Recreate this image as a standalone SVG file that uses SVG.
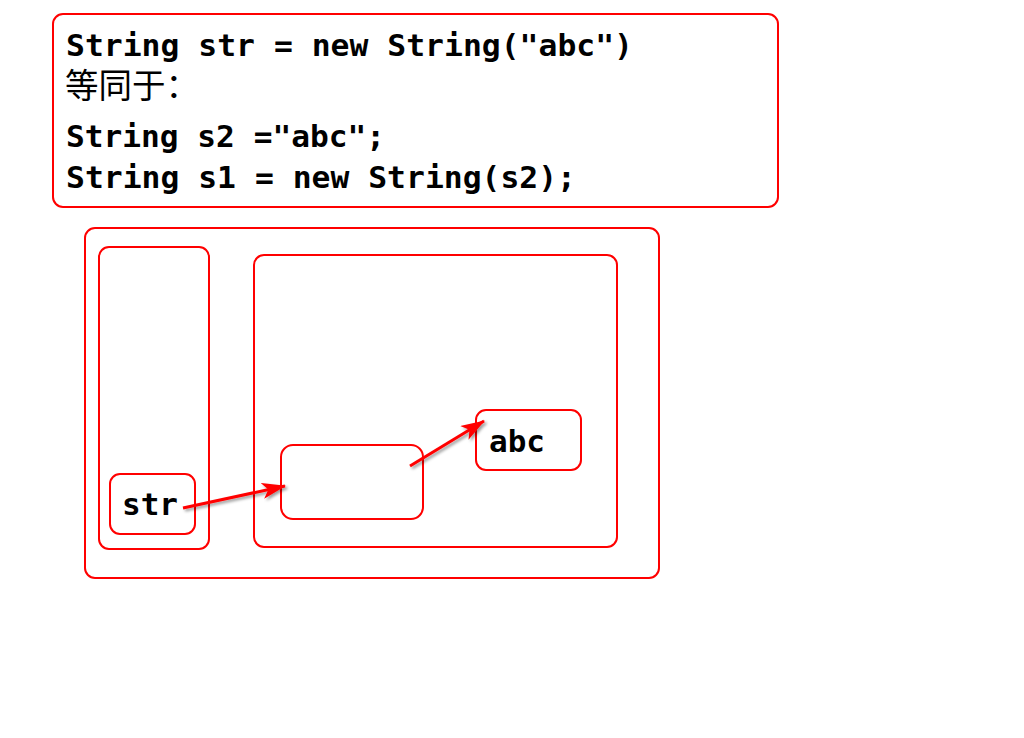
<svg xmlns="http://www.w3.org/2000/svg" width="1024" height="738" viewBox="0 0 1024 738">
<defs>
<style>
.box{fill:none;stroke:#ff0000;stroke-width:2}
.code{font-family:"DejaVu Sans Mono","Liberation Mono",monospace;font-weight:bold;font-size:31px;fill:#000}
.cjk{font-family:"Noto Sans CJK SC","DejaVu Sans",sans-serif;font-size:34px;fill:#000}
.conn{stroke:#ff0000;stroke-width:3;fill:none}
</style>
<marker id="ah" viewBox="0 0 24 16" refX="23" refY="8" markerWidth="24" markerHeight="16" markerUnits="userSpaceOnUse" orient="auto">
<path d="M0,0 L24,8 L0,16 L6,8 z" fill="#ff0000"/>
</marker>
<filter id="sh" x="-20%" y="-50%" width="140%" height="200%">
<feDropShadow dx="2" dy="2" stdDeviation="1.5" flood-color="#000" flood-opacity="0.4"/>
</filter>
</defs>
<rect width="1024" height="738" fill="#fff"/>
<g id="code-note">
<rect class="box" x="53" y="14" width="725" height="193" rx="10"/>
<text class="code" x="66" y="56" textLength="567" lengthAdjust="spacingAndGlyphs">String str = new String("abc")</text>
<text class="cjk" x="65" y="98" textLength="134" lengthAdjust="spacingAndGlyphs">等同于：</text>
<text class="code" x="66" y="147" textLength="319" lengthAdjust="spacingAndGlyphs">String s2 ="abc";</text>
<text class="code" x="66" y="188" textLength="510" lengthAdjust="spacingAndGlyphs">String s1 = new String(s2);</text>
</g>
<g id="memory">
<rect class="box" x="85" y="228" width="574" height="350" rx="10"/>
</g>
<g id="stack">
<rect class="box" x="99" y="247" width="110" height="302" rx="10"/>
</g>
<g id="heap">
<rect class="box" x="254" y="255" width="363" height="292" rx="10"/>
</g>
<g id="str">
<rect class="box" x="110" y="474" width="85" height="60" rx="10"/>
<text class="code" x="122" y="515">str</text>
</g>
<g id="obj">
<rect class="box" x="281" y="445" width="142" height="74" rx="12"/>
</g>
<g id="abc">
<rect class="box" x="476" y="410" width="105" height="60" rx="10"/>
<text class="code" x="489" y="452">abc</text>
</g>
<g id="connectors" filter="url(#sh)">
<line class="conn" x1="183" y1="508" x2="285" y2="486" marker-end="url(#ah)"/>
<line class="conn" x1="410" y1="466" x2="484" y2="421" marker-end="url(#ah)"/>
</g>
</svg>
